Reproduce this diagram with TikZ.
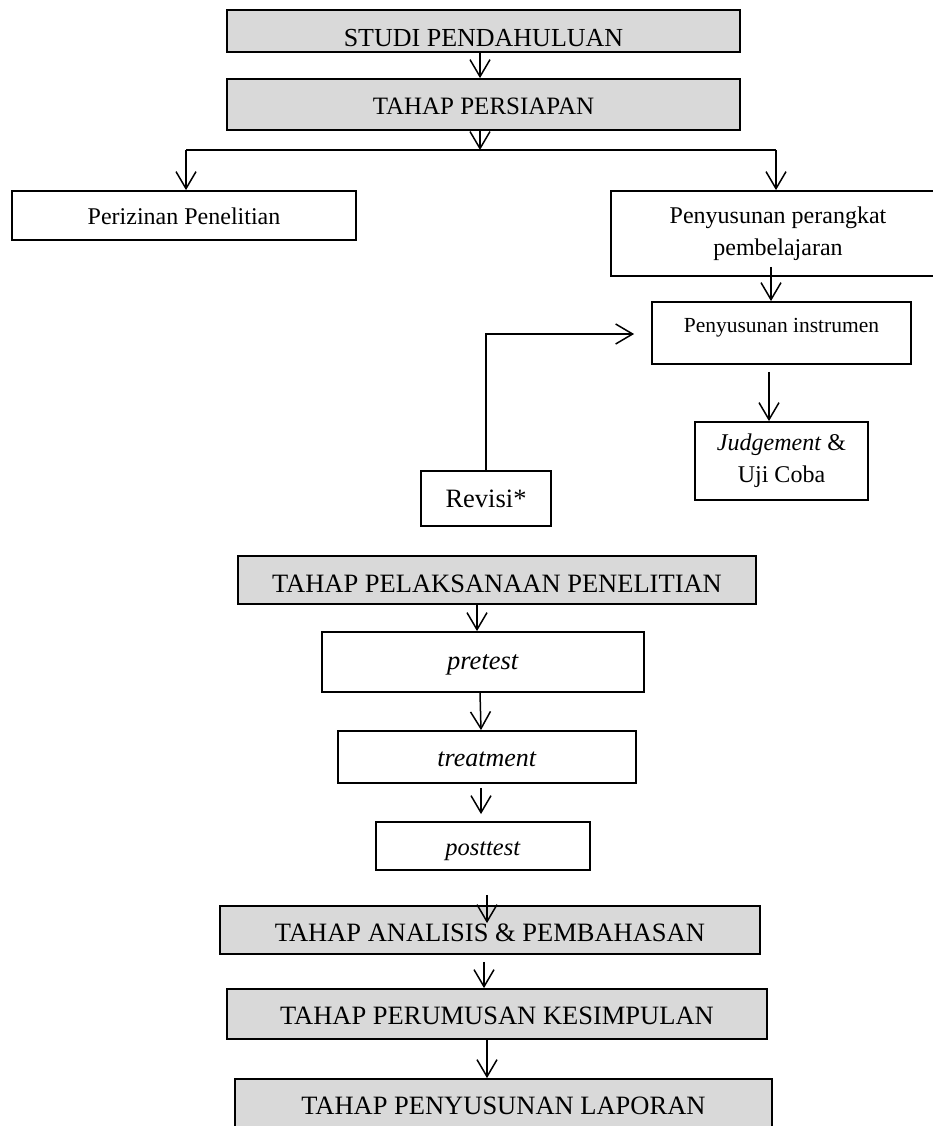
\documentclass[tikz,border=0pt]{standalone}
\usepackage{fontspec}
\setmainfont{Liberation Serif}
\usetikzlibrary{arrows.meta}
\definecolor{boxgray}{RGB}{217,217,217}
\tikzset{
  x=1pt, y=-1pt,
  basebox/.style={draw=black, line width=1.8pt, rectangle, inner sep=0pt, align=center},
  gbox/.style={basebox, fill=boxgray},
  wbox/.style={basebox, fill=white},
  conn/.style={line width=1.5pt, draw=black},
  arr/.style={conn, -{Straight Barb[length=17pt,width=20pt]}},
  fs/.style={font=\fontsize{#1}{32}\selectfont},
  bl/.style={text height=#1, text depth=0pt}
}
\begin{document}
\begin{tikzpicture}
\useasboundingbox (0,0) rectangle (932,1126);
% boxes
\node[gbox, fs=26, bl=32pt, minimum width=513pt, minimum height=42pt] (studi) at (483.5,31) {STUDI PENDAHULUAN};
\node[gbox, fs=25, bl=21pt, minimum width=513pt, minimum height=51pt] (persiapan) at (483.5,104.5) {TAHAP PERSIAPAN};
\node[wbox, fs=24, bl=17pt, minimum width=344pt, minimum height=49pt] (izin) at (184,215.5) {Perizinan Penelitian};
\node[wbox, fs=24, minimum width=334pt, minimum height=85pt] (perangkat) at (778,233.5) {Penyusunan perangkat\\pembelajaran};
\node[wbox, fs=21.5, text height=0pt, text depth=2pt, minimum width=259pt, minimum height=62pt] (instrumen) at (781.5,333) {Penyusunan instrumen};
\node[wbox, fs=24, minimum width=173pt, minimum height=78pt] (judgement) at (781.5,461) {\textit{Judgement} \&\\Uji Coba};
\node[wbox, fs=26.5, bl=17pt, minimum width=130pt, minimum height=55pt] (revisi) at (486,498.5) {Revisi*};
\node[gbox, fs=26.5, bl=24pt, minimum width=518pt, minimum height=48pt] (pelaksanaan) at (497,580) {TAHAP PELAKSANAAN PENELITIAN};
\node[wbox, fs=26.5, bl=14pt, minimum width=322pt, minimum height=60pt] (pretest) at (483,662) {\textit{pretest}};
\node[wbox, fs=26, bl=18pt, minimum width=298pt, minimum height=52pt] (treatment) at (487,757) {\textit{treatment}};
\node[wbox, fs=24.5, bl=18pt, minimum width=214pt, minimum height=48pt] (posttest) at (483,846) {\textit{posttest}};
\node[gbox, fs=26.5, bl=22pt, minimum width=540pt, minimum height=48pt] (analisis) at (490,930) {TAHAP ANALISIS \& PEMBAHASAN};
\node[gbox, fs=26.5, bl=20pt, minimum width=540pt, minimum height=50pt] (perumusan) at (497,1014) {TAHAP PERUMUSAN KESIMPULAN};
\node[gbox, fs=26.5, bl=16pt, minimum width=537pt, minimum height=54pt] (laporan) at (503.5,1106) {TAHAP PENYUSUNAN LAPORAN};
% coordinates
\coordinate (bm) at (480,150);
\coordinate (bleft) at (186,150);
\coordinate (bright) at (776,150);
\coordinate (rv) at (486,334);
% connectors
\draw[arr] (studi.south -| bm) -- (persiapan.north -| bm);
\draw[arr] (persiapan.south -| bm) -- (bm);
\draw[conn] (bleft) -- (bright);
\draw[arr] (bleft) -- (izin.north -| bleft);
\draw[arr] (bright) -- (perangkat.north -| bright);
\draw[arr] ([yshift=10pt]perangkat.south -| 771,0) -- (instrumen.north -| 771,0);
\draw[arr] ([yshift=-7pt]instrumen.south -| 769,0) -- (judgement.north -| 769,0);
\draw[arr] (revisi.north) -- (rv) -- ([xshift=-17pt]instrumen.west |- rv);
\draw[arr] (pelaksanaan.south -| 477,0) -- (pretest.north -| 477,0);
\draw[arr] (pretest.south -| 480,0) -- (treatment.north -| 481,0);
\draw[arr] ([yshift=-4pt]treatment.south -| 481,0) -- ([yshift=7pt]posttest.north -| 481,0);
\draw[arr] ([yshift=-24pt]posttest.south -| 487,0) -- ([yshift=-18pt]analisis.north -| 487,0);
\draw[arr] ([yshift=-7pt]analisis.south -| 484,0) -- (perumusan.north -| 484,0);
\draw[arr] (perumusan.south -| 487,0) -- (laporan.north -| 487,0);
\end{tikzpicture}
\end{document}
